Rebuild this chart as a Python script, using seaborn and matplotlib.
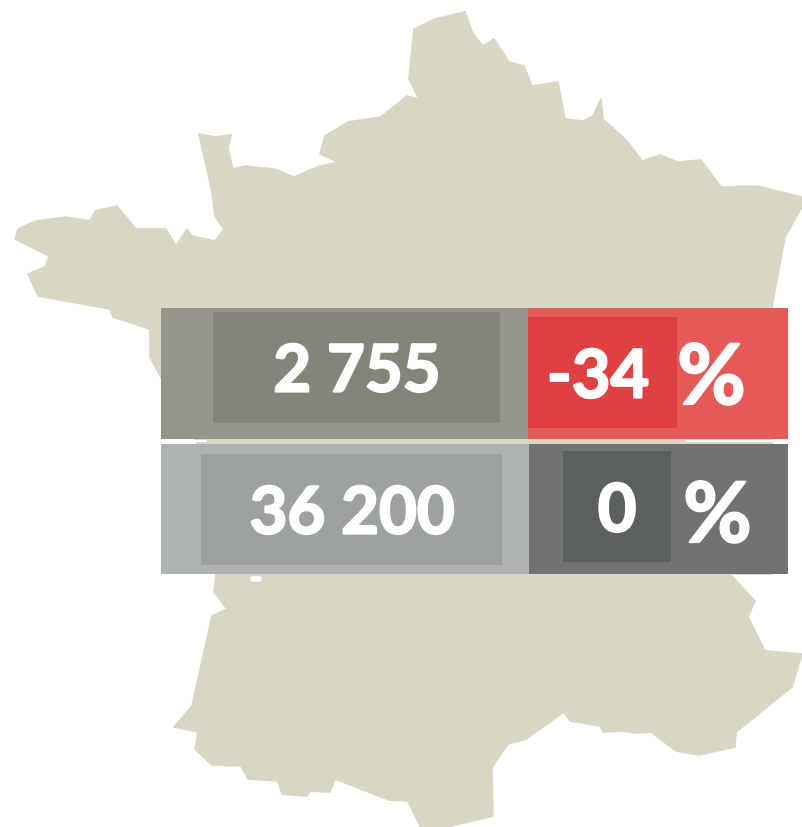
import matplotlib
matplotlib.use("Agg")
import matplotlib.pyplot as plt
import matplotlib.patheffects as pe
import seaborn as sns

# Map outline
map_x = [465,473,483,494,509,524,532,558,565,583,593,601,603,627,642,660,678,701,721,757,802,802,785,772,
         772,730,755,748,765,802,792,736,735,699,676,651,634,624,603,600,570,564,526,508,492,493,447,420,408,389,
         335,330,310,307,282,278,248,241,212,195,198,174,192,212,227,214,216,
         200,150,150,113,110,38,28,45,49,25,15,18,36,66,90,95,117,136,166,176,187,192,215,224,215,212,
         199,215,231,228,233,245,274,294,317,338,320,325,348,381,407,419,409,414,435]
map_y = [13,35,47,40,63,67,87,83,120,122,117,100,120,142,162,156,163,161,188,187,198,208,238,308,
         575,575,602,618,652,655,688,733,748,756,752,733,734,732,733,727,722,713,740,745,768,817,828,827,802,801,
         780,793,792,797,795,782,780,767,766,750,733,728,707,617,610,593,575,
         450,358,330,318,310,297,275,268,257,245,240,230,222,218,222,212,207,230,230,247,230,237,242,230,217,193,
         135,138,136,150,170,167,170,178,168,163,155,137,123,118,97,100,80,30,20]

# Chart values
row_values = ["2 755", "36 200"]
row_changes = ["-34", "0"]
percent_sign = "%"

# Colours
map_colour = "#D8D7C3"
left_outer = ["#959589", "#AEB2B3"]
left_inner = ["#83857A", "#9CA2A2"]
right_outer = ["#E55A58", "#707274"]
right_inner = ["#DF4143", "#5C5F60"]

# Layout in pixels: (x0, x1, y0, y1)
left_outer_box = [(161, 528, 308.5, 439.5), (161, 529, 444.5, 574.5)]
left_inner_box = [(213, 500, 312.5, 423.5), (201, 502, 454.5, 565.5)]
right_outer_box = [(528, 787.5, 308.5, 439.5), (529, 787.5, 444.5, 574.5)]
right_inner_box = [(528, 677, 317.5, 428.5), (563, 671, 451.5, 562.5)]
value_pos = [(357, 392.5), (352, 534.5)]
change_pos = [(598, 398.5), (617, 532.5)]
percent_pos = [(711.5, 405), (717.5, 543)]
white_gaps = [(161, 206), (686, 787)]

sns.set_theme(style="white")
plt.rcParams["font.family"] = ["Lato", "DejaVu Sans"]

W, H = 802, 828
fig = plt.figure(figsize=(W / 100, H / 100), dpi=100)
ax = fig.add_axes([0, 0, 1, 1])
ax.set_xlim(0, W)
ax.set_ylim(H, 0)
ax.fill(map_x, map_y, color=map_colour, lw=0, zorder=1)
sns.lineplot(x=map_x + map_x[:1], y=map_y + map_y[:1], sort=False, estimator=None,
             color=map_colour, lw=1.2, ax=ax, zorder=1)
ax.plot([253, 259], [580, 580], color="white", lw=4, zorder=1.5)


def box(b, c, z):
    ax.barh((b[2] + b[3]) / 2, b[1] - b[0], height=b[3] - b[2], left=b[0], color=c, lw=0, zorder=z)


def bold_text(pos, s, size, stroke):
    t = ax.text(*pos, s, color="white", fontsize=size, fontweight="bold",
                ha="center", va="baseline", zorder=4)
    t.set_path_effects([pe.withStroke(linewidth=stroke, foreground="white")])


for i in range(2):
    box(left_outer_box[i], left_outer[i], 2)
    box(right_outer_box[i], right_outer[i], 2)
    box(left_inner_box[i], left_inner[i], 3)
    box(right_inner_box[i], right_inner[i], 3)
    bold_text(value_pos[i], row_values[i], 47, 1.6)
    bold_text(change_pos[i], row_changes[i], 48, 1.6)
    bold_text(percent_pos[i], percent_sign, 60, 1.6)

for g in white_gaps:
    ax.plot(g, [441.5, 441.5], color="white", lw=1.5, zorder=1.8)
ax.axis("off")
fig.savefig("out.png", dpi=100, facecolor="white")
